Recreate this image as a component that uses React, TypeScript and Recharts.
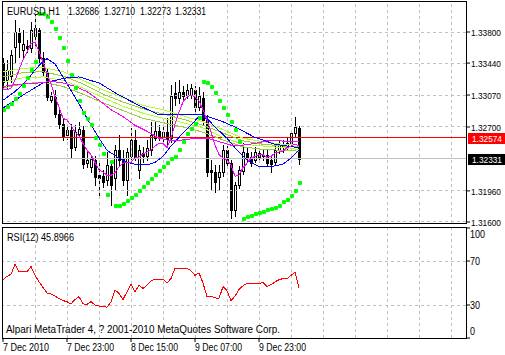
import React from "react";
import { ComposedChart, LineChart, Bar, Line, XAxis, YAxis, ReferenceLine } from "recharts";

const FONT = "'Liberation Sans', Arial, sans-serif";
const FS = 10;
const FS_AXIS = 9;

// ---------- texts ----------
const symbolTitle = "EURUSD,H1";
const lastQuote = ["1.32686", "1.32710", "1.32273", "1.32331"];
const rsiTitle = "RSI(12) 45.8966";
const copyright = "Alpari MetaTrader 4, ? 2001-2010 MetaQuotes Software Corp.";

// ---------- candles (H1 bars, index 0..74) ----------
const opens = [
  1.3344, 1.3324, 1.3329, 1.3363, 1.3379, 1.3359, 1.3364, 1.3361, 1.3375, 1.3382,
  1.3350, 1.3334, 1.3301, 1.3305, 1.3285, 1.3273, 1.3261, 1.3267, 1.3247, 1.3262,
  1.3267, 1.3228, 1.3224, 1.3232, 1.3214, 1.3213, 1.3209, 1.3225, 1.3211, 1.3243,
  1.3234, 1.3209, 1.3236, 1.3255, 1.3220, 1.3240, 1.3236, 1.3243, 1.3257, 1.3265,
  1.3258, 1.3264, 1.3257, 1.3309, 1.3304, 1.3311, 1.3307, 1.3307, 1.3313, 1.3293,
  1.3304, 1.3278, 1.3220, 1.3218, 1.3212, 1.3218, 1.3243, 1.3228, 1.3174, 1.3203,
  1.3219, 1.3240, 1.3235, 1.3232, 1.3240, 1.3236, 1.3238, 1.3232, 1.3229, 1.3243,
  1.3250, 1.3247, 1.3251, 1.3263, 1.32686,
];
const highs = [
  1.3350, 1.3348, 1.3359, 1.3394, 1.3385, 1.3382, 1.3371, 1.3392, 1.3401, 1.3385,
  1.3357, 1.3338, 1.3311, 1.3313, 1.3292, 1.3280, 1.3271, 1.3273, 1.3272, 1.3276,
  1.3271, 1.3241, 1.3238, 1.3236, 1.3228, 1.3220, 1.3241, 1.3232, 1.3249, 1.3261,
  1.3243, 1.3246, 1.3269, 1.3267, 1.3249, 1.3247, 1.3255, 1.3276, 1.3276, 1.3272,
  1.3271, 1.3280, 1.3319, 1.3322, 1.3324, 1.3317, 1.3320, 1.3320, 1.3317, 1.3316,
  1.3311, 1.3284, 1.3232, 1.3226, 1.3226, 1.3249, 1.3248, 1.3232, 1.3206, 1.3225,
  1.3251, 1.3246, 1.3241, 1.3247, 1.3246, 1.3243, 1.3243, 1.3238, 1.3250, 1.3255,
  1.3255, 1.3257, 1.3267, 1.3282, 1.32710,
];
const lows = [
  1.3315, 1.3315, 1.3322, 1.3344, 1.3351, 1.3351, 1.3357, 1.3357, 1.3364, 1.3345,
  1.3329, 1.3301, 1.3299, 1.3282, 1.3269, 1.3255, 1.3256, 1.3234, 1.3243, 1.3258,
  1.3223, 1.3224, 1.3218, 1.3203, 1.3191, 1.3201, 1.3203, 1.3180, 1.3197, 1.3226,
  1.3203, 1.3191, 1.3229, 1.3232, 1.3211, 1.3229, 1.3232, 1.3238, 1.3255, 1.3255,
  1.3253, 1.3250, 1.3253, 1.3295, 1.3298, 1.3301, 1.3304, 1.3304, 1.3287, 1.3290,
  1.3273, 1.3213, 1.3197, 1.3195, 1.3197, 1.3213, 1.3223, 1.3165, 1.3167, 1.3199,
  1.3216, 1.3229, 1.3225, 1.3229, 1.3232, 1.3232, 1.3225, 1.3218, 1.3227, 1.3240,
  1.3241, 1.3243, 1.3248, 1.3260, 1.32273,
];
const closes = [
  1.3322, 1.3336, 1.3353, 1.3380, 1.3368, 1.3366, 1.3361, 1.3382, 1.3385, 1.3350,
  1.3334, 1.3305, 1.3306, 1.3285, 1.3273, 1.3260, 1.3267, 1.3246, 1.3264, 1.3268,
  1.3227, 1.3232, 1.3233, 1.3212, 1.3211, 1.3206, 1.3226, 1.3203, 1.3243, 1.3232,
  1.3209, 1.3241, 1.3255, 1.3235, 1.3243, 1.3236, 1.3246, 1.3261, 1.3265, 1.3258,
  1.3264, 1.3256, 1.3306, 1.3304, 1.3311, 1.3306, 1.3313, 1.3315, 1.3293, 1.3306,
  1.3278, 1.3218, 1.3218, 1.3206, 1.3218, 1.3243, 1.3228, 1.3174, 1.3203, 1.3220,
  1.3241, 1.3234, 1.3228, 1.3241, 1.3235, 1.3238, 1.3228, 1.3227, 1.3243, 1.3249,
  1.3247, 1.3251, 1.3263, 1.3270, 1.32331,
];

// ---------- Parabolic SAR ----------
const sarValues = [
  1.3290, 1.3293, 1.3297, 1.3302, 1.3308, 1.3317, 1.3327, 1.3336, 1.3345, 1.3401,
  1.3401, 1.3397, 1.3392, 1.3383, 1.3373, 1.3361, 1.3346, 1.3330, 1.3315, 1.3300,
  1.3286, 1.3279, 1.3272, 1.3257, 1.3249, 1.3239, 1.3191, 1.3229, 1.3179, 1.3179,
  1.3181, 1.3184, 1.3188, 1.3191, 1.3196, 1.3201, 1.3205, 1.3210, 1.3214, 1.3219,
  1.3224, 1.3228, 1.3233, 1.3235, 1.3243, 1.3253, 1.3262, 1.3268, 1.3273, 1.3280,
  1.3322, 1.3321, 1.3316, 1.3309, 1.3300, 1.3292, 1.3284, 1.3276, 1.3267, 1.3253,
  1.3163, 1.3166, 1.3167, 1.3169, 1.3170, 1.3172, 1.3174, 1.3175, 1.3176, 1.3179,
  1.3183, 1.3185, 1.3190, 1.3196, 1.3205,
];

// ---------- moving averages ----------
const magentaFast = [
  1.3313, 1.3313, 1.3315, 1.3324, 1.3336, 1.3348, 1.3357, 1.3367, 1.3368, 1.3358,
  1.3345, 1.3331, 1.3320, 1.3305, 1.3293, 1.3280, 1.3278, 1.3272, 1.3264, 1.3260,
  1.3251, 1.3243, 1.3238, 1.3229, 1.3220, 1.3218, 1.3214, 1.3214, 1.3217, 1.3224,
  1.3228, 1.3229, 1.3229, 1.3234, 1.3235, 1.3239, 1.3241, 1.3243, 1.3248, 1.3251,
  1.3251, 1.3246, 1.3257, 1.3273, 1.3287, 1.3299, 1.3305, 1.3307, 1.3305, 1.3300,
  1.3290, 1.3278, 1.3264, 1.3249, 1.3238, 1.3234, 1.3232, 1.3226, 1.3213, 1.3214,
  1.3223, 1.3228, 1.3234, 1.3236, 1.3238, 1.3238, 1.3235, 1.3236, 1.3240, 1.3241,
  1.3242, 1.3246, 1.3248, 1.3250, 1.3248,
];
const magentaSlowPts: [number, number][] = [
  [0, 1.3317], [3, 1.3319], [6, 1.3320], [9, 1.3321], [12, 1.3323], [15, 1.3321],
  [18, 1.3317], [21, 1.3311], [24, 1.3301], [27, 1.3290], [30, 1.3282], [33, 1.3272],
  [36, 1.3265], [39, 1.3257], [42, 1.3254], [45, 1.3255], [48, 1.3257], [51, 1.3257],
  [54, 1.3253], [57, 1.3249], [60, 1.3249], [63, 1.3251], [66, 1.3254], [69, 1.3254],
  [72, 1.3253], [74, 1.3253],
];
const blueFastPts: [number, number][] = [
  [0, 1.3301], [3, 1.3311], [6, 1.3324], [8, 1.3336], [10, 1.3346], [11, 1.3349],
  [13, 1.3343], [16, 1.3320], [19, 1.3297], [21, 1.3280], [24, 1.3257], [26, 1.3243],
  [29, 1.3234], [31, 1.3229], [34, 1.3226], [36, 1.3226], [38, 1.3229], [40, 1.3236],
  [42, 1.3248], [45, 1.3263], [49, 1.3282], [51, 1.3280], [53, 1.3270], [56, 1.3257],
  [58, 1.3246], [61, 1.3232], [64, 1.3224], [67, 1.3224], [70, 1.3227], [72, 1.3234],
  [74, 1.3243],
];
const blueSlowPts: [number, number][] = [
  [0, 1.3292], [5, 1.3307], [10, 1.3321], [13, 1.3324], [16, 1.3327], [19, 1.3328],
  [24, 1.3321], [29, 1.3307], [34, 1.3295], [39, 1.3284], [45, 1.3284], [50, 1.3284],
  [55, 1.3276], [58, 1.3270], [63, 1.3258], [68, 1.3250], [74, 1.3246],
];
const limeBars = [0, 5, 10, 15, 20, 25, 30, 35, 40, 45, 50, 55, 60, 65, 70, 74];
const lime1 = [1.3334, 1.3338, 1.3339, 1.3334, 1.3324, 1.3313, 1.3304, 1.3295, 1.3290, 1.3283, 1.3276, 1.3267, 1.3257, 1.3253, 1.3250, 1.3249];
const lime2 = [1.3328, 1.3333, 1.3334, 1.3329, 1.3320, 1.3308, 1.3299, 1.3291, 1.3285, 1.3279, 1.3272, 1.3263, 1.3254, 1.3250, 1.3248, 1.3247];
const lime3 = [1.3322, 1.3327, 1.3328, 1.3324, 1.3315, 1.3304, 1.3294, 1.3286, 1.3280, 1.3275, 1.3269, 1.3258, 1.3250, 1.3248, 1.3246, 1.3244];
const lime4 = [1.3315, 1.3320, 1.3322, 1.3317, 1.3308, 1.3298, 1.3289, 1.3280, 1.3275, 1.3270, 1.3264, 1.3255, 1.3247, 1.3244, 1.3243, 1.3242];

// ---------- RSI(12) ----------
const rsiValues = [
  53, 56, 58, 67, 60, 61, 60, 65, 57, 51,
  46, 41, 40, 38, 36, 34, 33, 31, 35, 37.6,
  31, 30.5, 33, 30, 29, 28.5, 28, 33, 43.6, 40.6,
  35, 42, 49, 42, 48, 45, 48, 52, 53.3, 53.3,
  53.3, 50, 54, 63.5, 63, 63, 63.5, 61, 57, 59,
  50, 37.6, 38, 36.5, 36, 46.7, 43, 34, 38, 44,
  47.5, 49.5, 50, 50, 49.7, 50.3, 46.7, 48.5, 51, 53,
  54, 53.6, 57, 59.7, 45.8966,
];

// ---------- axes ----------
const priceTicks = [1.338, 1.3344, 1.3307, 1.327, 1.3196, 1.316];
const rsiTicks = [100, 70, 30, 0];
const rsiLevels = [70, 30];
const timeTickBars = [0, 16, 32, 48, 64];
const timeTickLabels = ["7 Dec 2010", "7 Dec 23:00", "8 Dec 15:00", "9 Dec 07:00", "9 Dec 23:00"];
const gridBars = [8, 16, 24, 32, 40, 48, 56, 64, 72, 80, 88, 96, 104, 112];
const redLinePrice = 1.32574;
const bidPrice = 1.32331;

const xDomain: [number, number] = [-0.25, 115.75];
const priceDomain: [number, number] = [1.315883, 1.341474];

// ---------- build table ----------
const fromPts = (pts: [number, number][]) => {
  const m = new Map<number, number>(pts);
  return (i: number) => (m.has(i) ? (m.get(i) as number) : null);
};
const limeMap = (vals: number[]) => fromPts(limeBars.map((b, k) => [b, vals[k]] as [number, number]));
const ms = fromPts(magentaSlowPts);
const bf = fromPts(blueFastPts);
const bs = fromPts(blueSlowPts);
const l1 = limeMap(lime1);
const l2 = limeMap(lime2);
const l3 = limeMap(lime3);
const l4 = limeMap(lime4);

const rows = opens.map((o, i) => ({
  i,
  open: o,
  high: highs[i],
  low: lows[i],
  close: closes[i],
  range: [lows[i], highs[i]],
  sar: sarValues[i],
  magFast: magentaFast[i],
  magSlow: ms(i),
  blueFast: bf(i),
  blueSlow: bs(i),
  lime1: l1(i),
  lime2: l2(i),
  lime3: l3(i),
  lime4: l4(i),
}));
const rsiRows = rsiValues.map((v, i) => ({ i, rsi: v }));

// narrow text helper (MetaTrader uses a condensed UI font)
const T = (props: { x: number; y: number; w: number; fs?: number; fill?: string; children: string }) => (
  <text
    x={props.x}
    y={props.y}
    fontSize={props.fs || FS}
    fontFamily={FONT}
    fill={props.fill || "#000"}
    textLength={props.w}
    lengthAdjust="spacingAndGlyphs"
  >
    {props.children}
  </text>
);

// ---------- shapes ----------
const Candle = (props: any) => {
  const { x, y, width, height, payload } = props;
  if (!payload || x == null || y == null) return null;
  const top = Math.min(y, y + height);
  const bot = Math.max(y, y + height);
  const span = payload.high - payload.low;
  const py = (p: number) => (span > 0 ? top + ((payload.high - p) / span) * (bot - top) : top);
  const cx = Math.round(x + width / 2);
  const yo = py(payload.open);
  const yc = py(payload.close);
  const bull = payload.close >= payload.open;
  const bTop = Math.round(Math.min(yo, yc));
  const bBot = Math.round(Math.max(yo, yc));
  return (
    <g>
      <line x1={cx + 0.5} x2={cx + 0.5} y1={Math.round(top)} y2={Math.round(bot) + 1} stroke="#000" strokeWidth={1} shapeRendering="crispEdges" />
      {bull ? (
        <rect x={cx - 0.5} y={bTop + 0.5} width={2} height={Math.max(bBot - bTop, 1)} fill="#fff" stroke="#000" strokeWidth={1} shapeRendering="crispEdges" />
      ) : (
        <rect x={cx - 1} y={bTop} width={3} height={Math.max(bBot - bTop + 1, 1)} fill="#000" shapeRendering="crispEdges" />
      )}
    </g>
  );
};

const SarDot = (props: any) => {
  const { cx, cy, value, index } = props;
  if (value == null || cy == null || Number.isNaN(cy)) return <g key={`s${index}`} />;
  return <rect key={`s${index}`} x={Math.round(cx) - 1} y={Math.round(cy) - 2} width={4} height={4} rx={1} fill="#00FF00" />;
};

const PriceTick = (props: any) => {
  const { x, y, payload } = props;
  return <T x={x} y={y + 4} w={30} fs={FS_AXIS}>{Number(payload.value).toFixed(5)}</T>;
};

const RsiTick = (props: any) => {
  const { x, y, payload } = props;
  const v = Number(payload.value);
  const s = String(v);
  const yy = v === 100 ? y + 10 : v === 0 ? y - 3 : y + 4;
  return <T x={x - 2} y={yy} w={s.length * 5}>{s}</T>;
};

const TimeTick = (props: any) => {
  const { x, y, payload } = props;
  const k = timeTickBars.indexOf(Number(payload.value));
  const s = k >= 0 ? timeTickLabels[k] : "";
  return <T x={x} y={y + 7} w={s.length === 10 ? 46 : 47}>{s}</T>;
};

const priceBox = (bg: string, text: string) => (props: any) => {
  const vb = props.viewBox || {};
  const yy = Math.round(vb.y);
  const xr = vb.x + vb.width;
  return (
    <g>
      <rect x={xr + 2} y={yy - 5} width={40} height={11} fill={bg} />
      <T x={xr + 6} y={yy + 4} w={30} fs={FS_AXIS} fill="#fff">{text}</T>
    </g>
  );
};

const lineCommon = { isAnimationActive: false, dot: false, activeDot: false, strokeWidth: 1, connectNulls: true, shapeRendering: "crispEdges" } as any;

export default function App() {
  return (
    <div style={{ position: "absolute", left: 0, top: 0, width: 505, height: 355, background: "#fff", overflow: "hidden" }}>
      <div style={{ position: "absolute", left: 0, top: 0 }}>
        <ComposedChart width={505} height={229} data={rows} margin={{ top: 2, right: 0, bottom: 6, left: 2 }}>
          <XAxis dataKey="i" type="number" domain={xDomain} allowDataOverflow hide />
          <YAxis
            orientation="right"
            width={39}
            domain={priceDomain}
            allowDataOverflow
            ticks={priceTicks}
            interval={0}
            axisLine={false}
            tickSize={4}
            tickMargin={1}
            tickLine={{ stroke: "#000" }}
            tick={<PriceTick />}
          />
          {priceTicks.map((p) => (
            <ReferenceLine key={`hp${p}`} y={p} stroke="#c0c0c0" strokeDasharray="3 3" shapeRendering="crispEdges" />
          ))}
          {gridBars.map((b) => (
            <ReferenceLine key={`vg${b}`} x={b} stroke="#c0c0c0" strokeDasharray="3 3" shapeRendering="crispEdges" />
          ))}
          <ReferenceLine y={bidPrice} stroke="#c0c0c0" shapeRendering="crispEdges" label={priceBox("#000", bidPrice.toFixed(5))} />
          <Bar dataKey="range" barSize={3} shape={Candle} isAnimationActive={false} />
          <ReferenceLine y={redLinePrice} stroke="#ff0000" shapeRendering="crispEdges" label={priceBox("#ff0000", redLinePrice.toFixed(5))} />
          <Line dataKey="lime1" stroke="#ADFF2F" {...lineCommon} />
          <Line dataKey="lime2" stroke="#9ACD32" {...lineCommon} />
          <Line dataKey="lime3" stroke="#ADFF2F" {...lineCommon} />
          <Line dataKey="lime4" stroke="#9ACD32" {...lineCommon} />
          <Line dataKey="blueSlow" stroke="#0000FF" {...lineCommon} />
          <Line dataKey="blueFast" stroke="#0000FF" {...lineCommon} />
          <Line dataKey="magSlow" stroke="#FF00FF" {...lineCommon} />
          <Line dataKey="magFast" stroke="#FF00FF" {...lineCommon} />
          <Line dataKey="sar" stroke="none" isAnimationActive={false} activeDot={false} dot={SarDot} />
        </ComposedChart>
      </div>
      <div style={{ position: "absolute", left: 0, top: 227 }}>
        <LineChart width={505} height={128} data={rsiRows} margin={{ top: 1, right: 0, bottom: 0, left: 2 }}>
          <XAxis
            dataKey="i"
            type="number"
            domain={xDomain}
            allowDataOverflow
            ticks={timeTickBars}
            interval={0}
            height={17}
            axisLine={false}
            tickSize={4}
            tickLine={{ stroke: "#000" }}
            tick={<TimeTick />}
          />
          <YAxis
            orientation="right"
            width={39}
            domain={[0, 100]}
            ticks={rsiTicks}
            interval={0}
            axisLine={false}
            tickSize={4}
            tickMargin={2}
            tickLine={{ stroke: "#000" }}
            tick={<RsiTick />}
          />
          {rsiLevels.map((v) => (
            <ReferenceLine key={`rl${v}`} y={v} stroke="#c0c0c0" strokeDasharray="3 3" shapeRendering="crispEdges" />
          ))}
          {gridBars.map((b) => (
            <ReferenceLine key={`rg${b}`} x={b} stroke="#c0c0c0" strokeDasharray="3 3" shapeRendering="crispEdges" />
          ))}
          <Line dataKey="rsi" stroke="#ff0000" {...lineCommon} />
        </LineChart>
      </div>
      <div style={{ position: "absolute", left: 2, top: 1, width: 465, height: 223, boxSizing: "border-box", border: "1px solid #000", pointerEvents: "none" }} />
      <div style={{ position: "absolute", left: 2, top: 227, width: 465, height: 112, boxSizing: "border-box", border: "1px solid #000", pointerEvents: "none" }} />
      <svg width={505} height={355} style={{ position: "absolute", left: 0, top: 0, pointerEvents: "none" }}>
        <T x={7} y={15} w={53}>{symbolTitle}</T>
        <T x={68} y={15} w={31}>{lastQuote[0]}</T>
        <T x={104} y={15} w={31}>{lastQuote[1]}</T>
        <T x={140} y={15} w={31}>{lastQuote[2]}</T>
        <T x={175} y={15} w={31}>{lastQuote[3]}</T>
        <T x={7} y={241} w={67}>{rsiTitle}</T>
        <T x={6} y={333} w={274}>{copyright}</T>
      </svg>
    </div>
  );
}
